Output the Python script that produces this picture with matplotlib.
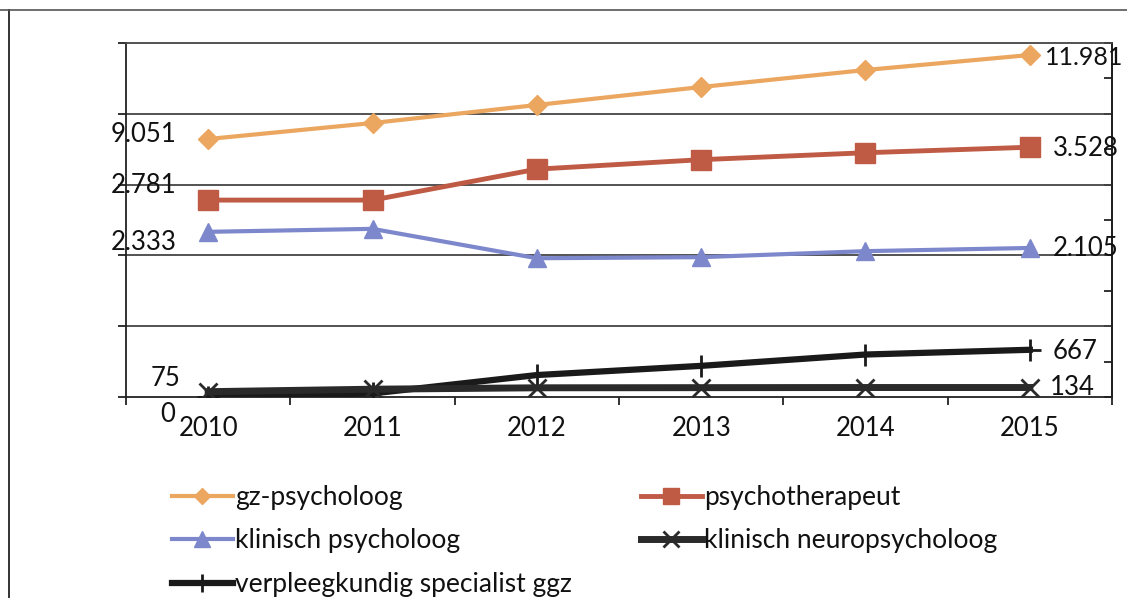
import matplotlib
matplotlib.use("Agg")
import matplotlib.pyplot as plt
from matplotlib.lines import Line2D
import numpy as np

plt.rcParams['font.family'] = ['Lato', 'DejaVu Sans']

years = ['2010', '2011', '2012', '2013', '2014', '2015']
gz_psycholoog = [9051, 9609, 10237, 10865, 11458, 11981]
psychotherapeut = [2781, 2781, 3218, 3352, 3450, 3528]
klinisch_psycholoog = [2333, 2375, 1960, 1975, 2060, 2105]
klinisch_neuropsycholoog = [75, 110, 130, 132, 134, 134]
verpleegkundig_specialist = [0, 50, 310, 440, 600, 667]

labels = ['gz-psycholoog', 'psychotherapeut', 'klinisch psycholoog',
          'klinisch neuropsycholoog', 'verpleegkundig specialist ggz']

c_gz = '#EBA65F'
c_pt = '#BF5A45'
c_kp = '#7D88CC'
c_bk = '#1a1a1a'

W, H = 1127, 598
fig = plt.figure(figsize=(W / 100, H / 100), dpi=100)
L, R, T, B = 126, 1112, 43, 397
ax = fig.add_axes([L / W, 1 - B / H, (R - L) / W, (B - T) / H])
ax_gz = ax.twinx()

x = np.arange(len(years))
ax.set_xlim(-0.49, 5.49)
ax.set_ylim(0, 5000)
ax_gz.set_ylim(52, 12400)

fs = 18.5

# grid lines
for gy in [1000, 2000, 3000, 4000]:
    ax.axhline(gy, color='#444444', lw=1.3, zorder=1)

l_kp, = ax.plot(x, klinisch_psycholoog, color=c_kp, lw=3, marker='^', ms=13,
                markeredgecolor=c_kp, zorder=3)
l_pt, = ax.plot(x, psychotherapeut, color=c_pt, lw=3.5, marker='s', ms=14,
                markeredgecolor=c_pt, zorder=3)
l_vs, = ax.plot(x, verpleegkundig_specialist, color=c_bk, lw=4.5, marker='+', ms=16,
                mew=2, zorder=4)
l_nk, = ax.plot(x, klinisch_neuropsycholoog, color='#2a2a2a', lw=5, marker='x', ms=13,
                mew=2, zorder=4)
l_gz, = ax_gz.plot(x, gz_psycholoog, color=c_gz, lw=3, marker='D', ms=10,
                   markeredgecolor=c_gz, zorder=3)

def lab(a, xi, v, txt, dx, dy, ha, size=fs):
    a.annotate(txt, (xi, v), xytext=(dx, -dy), textcoords='offset pixels',
               ha=ha, va='center', fontsize=size, color='#111111', zorder=6)

lab(ax_gz, 0, gz_psycholoog[0], '9.051', -32, -5, 'right')
lab(ax, 0, psychotherapeut[0], '2.781', -32, -15, 'right')
lab(ax, 0, klinisch_psycholoog[0], '2.333', -32, 11, 'right')
lab(ax, 0, klinisch_neuropsycholoog[0], '75', -28, -13, 'right')
lab(ax, 0, verpleegkundig_specialist[0], '0', -33, 17, 'right')
lab(ax_gz, 5, gz_psycholoog[5], '11.981', 15, 2, 'left', size=18)
lab(ax, 5, psychotherapeut[5], '3.528', 23, 1, 'left')
lab(ax, 5, klinisch_psycholoog[5], '2.105', 23, 1, 'left')
lab(ax, 5, verpleegkundig_specialist[5], '667', 23, 2, 'left')
lab(ax, 5, klinisch_neuropsycholoog[5], '134', 20, 0, 'left')

# axes styling
ax.set_xticks(x)
ax.set_xticklabels(years, fontsize=fs, color='#111111')
ax.set_xticks(np.arange(-0.5, 5.6, 1), minor=True)
ax.tick_params(axis='x', which='major', length=0, pad=14)
ax.tick_params(axis='x', which='minor', length=6, width=1.3, direction='out', color='#222222')
ax.set_yticks([0, 1000, 2000, 3000, 4000, 5000])
ax.set_yticklabels([])
ax.tick_params(axis='y', which='major', length=6, width=1.3, direction='out', color='#222222')
for s in ['left', 'bottom', 'right', 'top']:
    ax.spines[s].set_color('#222222')
    ax.spines[s].set_linewidth(1.3)
ax.spines['top'].set_color('#444444')
ax_gz.axis('off')
sec = ax.secondary_yaxis('right')
sec.set_yticks(np.arange(0, 5001, 500))
sec.set_yticklabels([])
sec.tick_params(length=6, width=1.3, direction='in', color='#222222')
sec.spines['right'].set_linewidth(1.3)

# outer frame remnants
fig.add_artist(Line2D([9 / W, 9 / W], [0, 1 - 10 / H], transform=fig.transFigure,
                      color='#333333', lw=1.4))
fig.add_artist(Line2D([0, 1], [1 - 10 / H, 1 - 10 / H], transform=fig.transFigure,
                      color='#555555', lw=1.2))

# legend
handles = [l_gz, l_kp, l_vs, l_pt, l_nk]
hl = [labels[0], labels[2], labels[4], labels[1], labels[3]]
leg = fig.legend(handles, hl, loc='upper left', bbox_to_anchor=(172 / W, 1 - 485 / H),
                 ncol=2, frameon=False, fontsize=19, handlelength=2.3,
                 handletextpad=0.1, columnspacing=2.6, labelspacing=0.7,
                 borderaxespad=0, borderpad=0, markerscale=0.85)
for t in leg.get_texts():
    t.set_color('#111111')

fig.savefig('out.png', dpi=100)
